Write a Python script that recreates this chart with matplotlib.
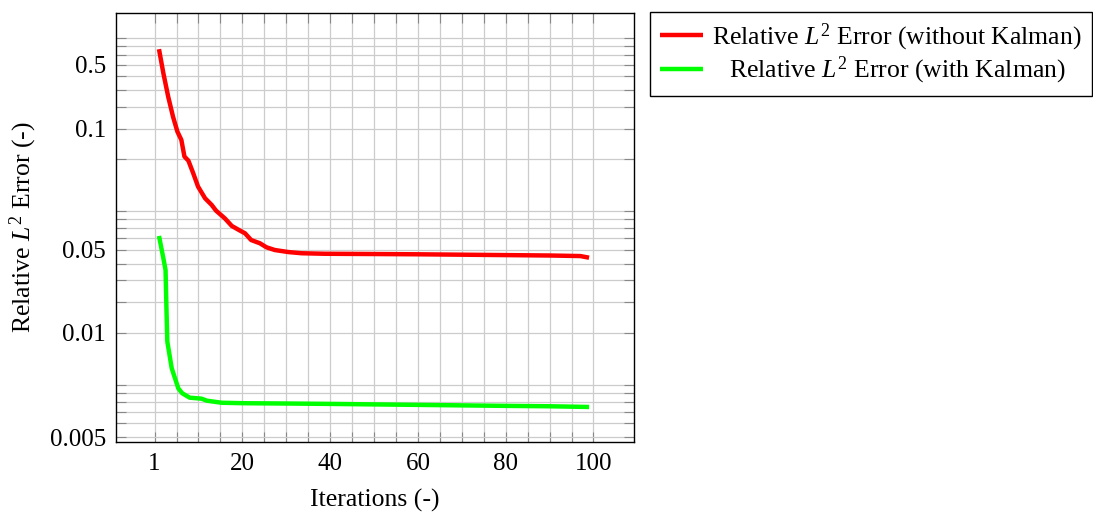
import matplotlib
matplotlib.use("Agg")
import matplotlib.pyplot as plt
from matplotlib.ticker import FixedLocator, LogLocator, NullFormatter

plt.rcParams["font.family"] = "Liberation Serif"
plt.rcParams["mathtext.fontset"] = "custom"
plt.rcParams["mathtext.rm"] = "Liberation Serif"
plt.rcParams["mathtext.it"] = "Liberation Serif:italic"

# values (y in the axis' own log units)
iter_without = [1, 2, 3.1, 4.2, 5.2, 6.1, 6.8, 7.7, 8.8, 9.9, 11.5, 13, 14, 16, 17.6,
                19.5, 20.6, 22, 24, 25.5, 27.4, 30.5, 33.5, 38.8, 50, 60, 70, 80, 90,
                97, 99]
err_without = [0.86, 0.625, 0.458, 0.351, 0.288, 0.258, 0.207, 0.196, 0.166, 0.139,
               0.119, 0.109, 0.101, 0.0912, 0.0824, 0.0774, 0.0748, 0.0684, 0.0655,
               0.0621, 0.0599, 0.0583, 0.0574, 0.0570, 0.0568, 0.0566, 0.0563, 0.0560,
               0.0557, 0.0553, 0.0541]

iter_with = [1, 2, 2.5, 2.7, 2.9, 3.9, 5.4, 6.3, 8, 10.7, 11.9, 15.3, 20.6, 30, 40, 50,
             60, 70, 80, 90, 99]
err_with = [0.0722, 0.0537, 0.0459, 0.0277, 0.0178, 0.0125, 0.00957, 0.00896, 0.00845,
            0.00834, 0.00812, 0.0079, 0.00785, 0.00782, 0.00778, 0.00773, 0.00768,
            0.00763, 0.00758, 0.00754, 0.00747]

x_ticks = [0, 20, 40, 60, 80, 100]
x_ticklabels = ["1", "20", "40", "60", "80", "100"]
# the original figure puts its y labels at these grid lines
y_ticks = [0.005, 0.02, 0.06, 0.3, 0.7]
y_ticklabels = ["0.005", "0.01", "0.05", "0.1", "0.5"]

label_without = r"Relative $L^2$ Error (without Kalman)"
label_with = r"Relative $L^2$ Error (with Kalman)"

fig = plt.figure(figsize=(10.93, 5.16), dpi=100)
ax = fig.add_axes([0.1061, 0.1440, 0.4742, 0.8314])

ax.plot(iter_without, err_without, color="#ff0000", lw=3.2, label=label_without,
        solid_joinstyle="round", solid_capstyle="butt")
ax.plot(iter_with, err_with, color="#00ff00", lw=3.2, label=label_with,
        solid_joinstyle="round", solid_capstyle="butt")

ax.set_yscale("log")
ax.set_xlim(-8.8, 109.3)
ax.set_ylim(0.004713, 1.395)

ax.xaxis.set_major_locator(FixedLocator(x_ticks))
ax.set_xticklabels(x_ticklabels)
ax.xaxis.set_minor_locator(FixedLocator([v for v in range(5, 100, 5) if v % 20]))

ax.yaxis.set_major_locator(FixedLocator(y_ticks))
ax.set_yticklabels(y_ticklabels)
ax.yaxis.set_minor_locator(LogLocator(base=10, subs=range(1, 10), numticks=20))
ax.yaxis.set_minor_formatter(NullFormatter())

ax.grid(True, which="both", color="#cccccc", lw=0.9)
ax.set_axisbelow(True)
ax.tick_params(which="both", direction="in", top=True, right=True,
               length=7.5, width=0.8, color="#888888", labelsize=18)
ax.tick_params(axis="x", which="both", pad=8)
ax.tick_params(axis="y", which="both", pad=7)
for s in ax.spines.values():
    s.set_color("black")
    s.set_linewidth(1.0)

ax.set_xlabel("Iterations (-)", fontsize=18.5, labelpad=10)
ax.set_ylabel(r"Relative $L^2$ Error (-)", fontsize=18.5, labelpad=8)

leg = ax.legend(loc="upper left", bbox_to_anchor=(650 / 1093, 1 - 11.7 / 516),
                bbox_transform=fig.transFigure, borderaxespad=0, fontsize=18.5,
                frameon=True, fancybox=False, edgecolor="black", framealpha=1,
                handlelength=1.71, handletextpad=0.35, borderpad=0.37,
                labelspacing=0.1)
leg.get_frame().set_linewidth(1.0)

# pgfplots centres the legend texts in their column
fig.canvas.draw()
r = fig.canvas.get_renderer()
texts = leg.get_texts()
widths = [t.get_window_extent(r).width for t in texts]
for t, w in zip(texts, widths):
    t.set_position(((max(widths) - w) / 2, 0))

fig.savefig("out.png", dpi=100)
